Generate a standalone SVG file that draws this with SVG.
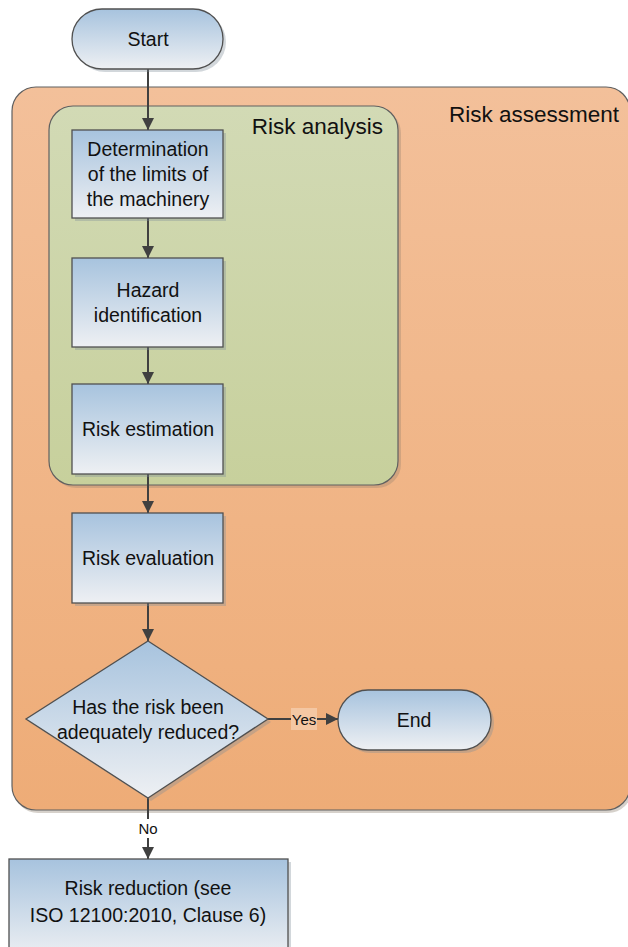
<svg xmlns="http://www.w3.org/2000/svg" width="628" height="947" viewBox="0 0 628 947">
  <defs>
    <linearGradient id="gBlue" x1="0" y1="0" x2="0" y2="1">
      <stop offset="0" stop-color="#a7c3de"/>
      <stop offset="1" stop-color="#eef0f3"/>
    </linearGradient>
    <linearGradient id="gOrange" x1="0" y1="0" x2="0" y2="1">
      <stop offset="0" stop-color="#f3c09a"/>
      <stop offset="1" stop-color="#eeac77"/>
    </linearGradient>
    <linearGradient id="gGreen" x1="0" y1="0" x2="0" y2="1">
      <stop offset="0" stop-color="#d2dab5"/>
      <stop offset="1" stop-color="#c7d09c"/>
    </linearGradient>
    <marker id="arrow" markerWidth="12" markerHeight="12" viewBox="0 0 12 12" refX="12" refY="6" orient="auto" markerUnits="userSpaceOnUse">
      <path d="M0,0 L12,6 L0,12 Z" fill="#404040"/>
    </marker>
  </defs>
  <style>
    .node { fill: url(#gBlue); stroke: #505050; stroke-width: 1.3; }
    .shadow { fill: #7f8c99; opacity: 0.35; }
    .txt { font-family: "Liberation Sans", Arial, sans-serif; font-size: 19.5px; fill: #111; text-anchor: middle; }
    .big { font-family: "Liberation Sans", Arial, sans-serif; font-size: 22.5px; fill: #111; }
    .lbl { font-family: "Liberation Sans", Arial, sans-serif; font-size: 15px; fill: #111; text-anchor: middle; }
    .edge { stroke: #404040; stroke-width: 2; fill: none; }
  </style>

  <!-- containers -->
  <g id="risk-assessment">
    <rect x="14" y="90" width="618" height="723" rx="24" fill="#8a7a6a" opacity="0.35"/>
    <rect x="12" y="87" width="618" height="723" rx="24" fill="url(#gOrange)" stroke="#606060" stroke-width="1.2"/>
    <text class="big" x="619" y="122" text-anchor="end">Risk assessment</text>
  </g>
  <g id="risk-analysis">
    <rect x="52" y="109" width="349" height="379" rx="24" fill="#8a7a6a" opacity="0.3"/>
    <rect x="49" y="106" width="349" height="379" rx="24" fill="url(#gGreen)" stroke="#606060" stroke-width="1.2"/>
    <text class="big" x="383" y="134" text-anchor="end">Risk analysis</text>
  </g>

  <!-- connectors -->
  <g id="connectors">
    <line class="edge" x1="148" y1="69" x2="148" y2="130" marker-end="url(#arrow)"/>
    <line class="edge" x1="148" y1="218" x2="148" y2="258" marker-end="url(#arrow)"/>
    <line class="edge" x1="148" y1="347" x2="148" y2="384" marker-end="url(#arrow)"/>
    <line class="edge" x1="148" y1="474" x2="148" y2="513" marker-end="url(#arrow)"/>
    <line class="edge" x1="148" y1="603" x2="148" y2="641" marker-end="url(#arrow)"/>
    <line class="edge" x1="268" y1="719" x2="338" y2="719" marker-end="url(#arrow)"/>
    <line class="edge" x1="148" y1="798" x2="148" y2="859" marker-end="url(#arrow)"/>
    <rect x="291" y="708" width="26" height="22" fill="#f4c7a3"/>
    <text class="lbl" x="304" y="724.5">Yes</text>
    <rect x="135" y="819" width="26" height="19" fill="#ffffff"/>
    <text class="lbl" x="148" y="834">No</text>
  </g>

  <!-- nodes -->
  <g id="start">
    <rect class="shadow" x="75" y="12" width="151" height="60" rx="30"/>
    <rect class="node" x="72" y="9" width="151" height="60" rx="30"/>
    <text class="txt" x="148" y="46">Start</text>
  </g>
  <g id="limits">
    <rect class="shadow" x="75" y="133" width="151" height="88"/>
    <rect class="node" x="72" y="130" width="151" height="88"/>
    <text class="txt" x="148" y="156">Determination</text>
    <text class="txt" x="148" y="181">of the limits of</text>
    <text class="txt" x="148" y="206">the machinery</text>
  </g>
  <g id="hazard">
    <rect class="shadow" x="75" y="261" width="151" height="89"/>
    <rect class="node" x="72" y="258" width="151" height="89"/>
    <text class="txt" x="148" y="297">Hazard</text>
    <text class="txt" x="148" y="322">identification</text>
  </g>
  <g id="estimation">
    <rect class="shadow" x="75" y="387" width="151" height="90"/>
    <rect class="node" x="72" y="384" width="151" height="90"/>
    <text class="txt" x="148" y="436">Risk estimation</text>
  </g>
  <g id="evaluation">
    <rect class="shadow" x="75" y="516" width="151" height="90"/>
    <rect class="node" x="72" y="513" width="151" height="90"/>
    <text class="txt" x="148" y="565">Risk evaluation</text>
  </g>
  <g id="decision">
    <polygon class="shadow" points="151,644 271,722 151,801 29,722"/>
    <polygon class="node" points="148,641 268,719 148,798 26,719"/>
    <text class="txt" x="148" y="714">Has the risk been</text>
    <text class="txt" x="148" y="739">adequately reduced?</text>
  </g>
  <g id="end">
    <rect class="shadow" x="341" y="693" width="153" height="60" rx="30"/>
    <rect class="node" x="338" y="690" width="153" height="60" rx="30"/>
    <text class="txt" x="414" y="727">End</text>
  </g>
  <g id="reduction">
    <rect class="shadow" x="12" y="862" width="279" height="100"/>
    <rect class="node" x="9" y="859" width="279" height="100"/>
    <text class="txt" x="148" y="895">Risk reduction (see</text>
    <text class="txt" x="148" y="922">ISO 12100:2010, Clause 6)</text>
  </g>
</svg>
